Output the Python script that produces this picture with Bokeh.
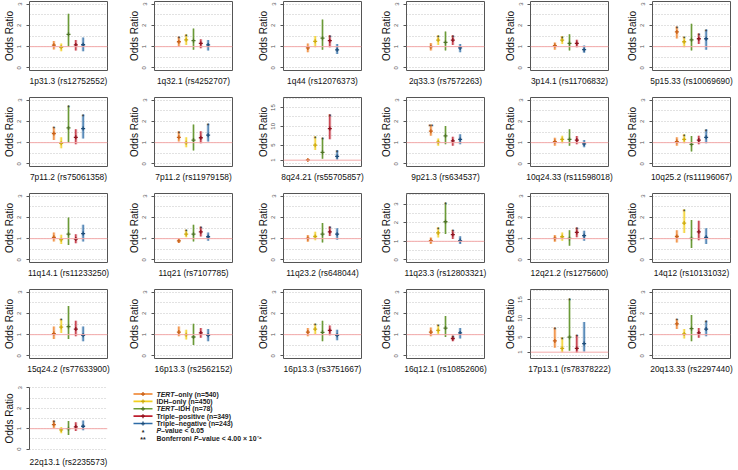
from bokeh.plotting import figure
from bokeh.layouts import row, column
from bokeh.models import Range1d, FixedTicker, Span, ColumnDataSource
from bokeh.core.properties import value
from bokeh.embed import file_html
from bokeh.resources import INLINE

# ---------------- data ----------------
loci = ["1p31.3 (rs12752552)", "1q32.1 (rs4252707)", "1q44 (rs12076373)", "2q33.3 (rs7572263)",
        "3p14.1 (rs11706832)", "5p15.33 (rs10069690)", "7p11.2 (rs75061358)", "7p11.2 (rs11979158)",
        "8q24.21 (rs55705857)", "9p21.3 (rs634537)", "10q24.33 (rs11598018)", "10q25.2 (rs11196067)",
        "11q14.1 (rs11233250)", "11q21 (rs7107785)", "11q23.2 (rs648044)", "11q23.3 (rs12803321)",
        "12q21.2 (rs1275600)", "14q12 (rs10131032)", "15q24.2 (rs77633900)", "16p13.3 (rs2562152)",
        "16p13.3 (rs3751667)", "16q12.1 (rs10852606)", "17p13.1 (rs78378222)", "20q13.33 (rs2297440)",
        "22q13.1 (rs2235573)"]

# y-axis upper limit per panel (axis setting)
ylim_max = [3, 3, 3, 3, 3, 3, 3, 3, 17, 3, 3, 3, 3, 3, 3, 3.43, 3, 3, 3, 3, 3, 3, 17, 3, 3]
small_ticks = [0, 1, 2, 3]
large_ticks = [1, 5, 10, 15]

legend_italic = ["TERT", "", "TERT", "", ""]
legend_rest = ["\u2013only (n=540)", "IDH\u2013only (n=450)", "\u2013IDH (n=78)",
               "Triple\u2013positive (n=349)", "Triple\u2013negative (n=243)"]

# TERT-only
or_tert = [1.07, 1.23, 0.94, 1.00, 1.05, 1.69, 1.43, 1.25, 1.05, 1.54, 1.05, 1.05, 1.06, 0.90, 1.01,
           1.04, 1.01, 1.10, 1.05, 1.12, 1.12, 1.12, 4.0, 1.51, 1.20]
lo_tert = [0.87, 1.00, 0.74, 0.82, 0.86, 1.38, 1.12, 1.05, 0.85, 1.32, 0.86, 0.86, 0.87, 0.79, 0.86,
           0.86, 0.86, 0.82, 0.80, 0.92, 0.92, 0.92, 2.2, 1.26, 1.02]
hi_tert = [1.27, 1.46, 1.15, 1.17, 1.20, 1.95, 1.74, 1.54, 1.30, 1.85, 1.23, 1.25, 1.29, 1.01, 1.17,
           1.21, 1.17, 1.40, 1.38, 1.38, 1.31, 1.34, 7.6, 1.74, 1.40]
sig_tert = ["", "*", "", "", "", "*", "*", "*", "", "**", "", "", "", "", "",
            "", "", "", "", "", "", "", "*", "*", "*"]

# IDH-only
or_idh = [0.97, 1.32, 1.25, 1.31, 1.31, 1.23, 0.97, 1.00, 5.0, 1.02, 1.15, 1.15, 0.95, 1.21, 1.10,
          1.45, 1.09, 1.73, 1.35, 1.00, 1.26, 1.20, 2.0, 1.03, 0.94]
lo_idh = [0.78, 1.08, 0.97, 1.08, 1.12, 0.97, 0.74, 0.78, 3.7, 0.86, 0.97, 0.97, 0.75, 1.06, 0.93,
          1.21, 0.90, 1.26, 1.08, 0.77, 1.03, 1.00, 1.0, 0.82, 0.78]
hi_idh = [1.15, 1.58, 1.50, 1.54, 1.50, 1.46, 1.25, 1.25, 7.4, 1.20, 1.32, 1.40, 1.18, 1.42, 1.32,
          1.75, 1.29, 2.38, 1.74, 1.23, 1.51, 1.46, 5.0, 1.26, 1.08]
sig_idh = ["", "*", "", "*", "*", "*", "", "", "*", "", "", "*", "", "*", "",
           "*", "", "*", "*", "", "*", "*", "*", "", ""]

# TERT-IDH
or_both = [1.58, 1.28, 1.40, 1.20, 1.15, 1.32, 1.69, 1.12, 3.1, 1.32, 1.15, 0.92, 1.21, 1.21, 1.21,
           2.05, 1.01, 1.01, 1.38, 0.89, 1.11, 1.31, 5.0, 1.28, 1.00]
lo_both = [1.00, 0.85, 0.85, 0.82, 0.82, 0.82, 1.00, 0.63, 1.4, 0.92, 0.85, 0.58, 0.70, 0.87, 0.82,
           1.39, 0.67, 0.56, 0.80, 0.51, 0.69, 0.89, 1.4, 0.69, 0.69]
hi_both = [2.54, 1.85, 2.28, 1.71, 1.58, 2.08, 2.74, 1.85, 7.0, 1.78, 1.63, 1.31, 1.99, 1.65, 1.73,
           3.09, 1.40, 1.88, 2.35, 1.51, 1.65, 1.88, 15.3, 1.92, 1.38]
sig_both = ["", "", "", "", "", "", "*", "", "*", "", "", "", "", "", "",
            "*", "", "", "", "", "", "", "*", "", ""]

# Triple-positive
or_tpos = [1.08, 1.15, 1.28, 1.31, 1.15, 1.37, 1.25, 1.23, 9.4, 1.08, 1.12, 1.12, 0.98, 1.32, 1.32,
           1.36, 1.29, 1.32, 1.26, 1.08, 1.20, 0.82, 2.0, 1.08, 1.09]
lo_tpos = [0.82, 0.92, 0.97, 1.08, 0.97, 1.12, 0.92, 0.97, 6.6, 0.86, 0.92, 0.92, 0.78, 1.10, 1.13,
           1.13, 1.06, 0.93, 0.92, 0.85, 0.97, 0.69, 0.9, 0.85, 0.89]
hi_tpos = [1.31, 1.35, 1.54, 1.54, 1.32, 1.62, 1.63, 1.54, 13.2, 1.28, 1.31, 1.32, 1.21, 1.56, 1.57,
           1.61, 1.52, 1.84, 1.65, 1.31, 1.43, 0.95, 5.6, 1.31, 1.31]
sig_tpos = ["", "", "*", "*", "", "*", "", "", "*", "", "", "", "", "*", "*",
            "*", "*", "", "", "", "", "*", "*", "", ""]

# Triple-negative
or_tneg = [1.09, 1.08, 0.85, 0.94, 0.86, 1.37, 1.66, 1.35, 2.0, 1.15, 0.94, 1.25, 1.24, 1.09, 1.21,
           1.04, 1.14, 1.06, 0.97, 0.97, 0.97, 1.08, 3.3, 1.26, 1.12]
lo_tneg = [0.78, 0.82, 0.66, 0.74, 0.71, 0.85, 1.20, 1.05, 1.2, 0.92, 0.78, 0.97, 0.87, 0.90, 0.95,
           0.86, 0.90, 0.75, 0.69, 0.69, 0.74, 0.82, 1.2, 0.92, 0.92]
hi_tneg = [1.43, 1.31, 1.12, 1.12, 1.05, 1.80, 2.32, 1.89, 3.7, 1.40, 1.12, 1.63, 1.65, 1.29, 1.49,
           1.27, 1.37, 1.49, 1.38, 1.26, 1.23, 1.31, 9.0, 1.65, 1.40]
sig_tneg = ["", "", "", "", "", "*", "*", "*", "*", "", "", "*", "", "", "",
            "", "", "", "", "", "", "", "", "*", ""]

group_or = [or_tert, or_idh, or_both, or_tpos, or_tneg]
group_lo = [lo_tert, lo_idh, lo_both, lo_tpos, lo_tneg]
group_hi = [hi_tert, hi_idh, hi_both, hi_tpos, hi_tneg]
group_sig = [sig_tert, sig_idh, sig_both, sig_tpos, sig_tneg]

# ---------------- style / layout ----------------
line_colors = ["#EE7D22", "#F3CF1F", "#6B9A37", "#BE1E2D", "#2D6BA6"]
mark_colors = ["#C8611A", "#CDAA10", "#4E7526", "#8E1420", "#1E4D7A"]
FONT = "Liberation Sans"

col_widths = [125, 129, 123, 124, 122, 113]
row_heights = [96, 96, 96, 96, 85]
LEFT = 27
FRAME_W = 80
FRAME_H = 69
TOP = 1

figs = []
for i, locus in enumerate(loci):
    c = i % 6
    r = i // 6
    w = col_widths[c]
    h = row_heights[r]
    top = ylim_max[i]
    big = top > 5
    ticks = large_ticks if big else small_ticks
    step = 2.5 if big else 0.5
    grid_ticks = [k * step for k in range(int(top * 1.04 / step) + 1)]

    p = figure(width=w, height=h, output_backend="svg", toolbar_location=None,
               x_range=Range1d(-2.33, 8.33), y_range=Range1d(-0.04 * top, 1.04 * top),
               min_border=0, min_border_left=LEFT, min_border_right=w - LEFT - FRAME_W,
               min_border_top=TOP, min_border_bottom=h - TOP - FRAME_H)
    p.background_fill_color = "white"
    p.border_fill_color = "white"
    p.outline_line_color = "#555555" if i < 24 else None
    p.outline_line_width = 1

    p.xgrid.visible = False
    p.ygrid.ticker = FixedTicker(ticks=grid_ticks)
    p.ygrid.grid_line_color = "#c4c4c4"
    p.ygrid.grid_line_dash = "1 2"
    p.ygrid.grid_line_width = 1

    p.yaxis.ticker = FixedTicker(ticks=ticks)
    p.yaxis.bounds = (ticks[0], ticks[-1])
    p.yaxis.major_label_orientation = "vertical"
    p.yaxis.major_label_text_font = FONT
    p.yaxis.major_label_text_font_size = "6px"
    p.yaxis.major_label_text_color = "#555555"
    p.yaxis.major_label_standoff = 5
    p.yaxis.major_tick_out = 3
    p.yaxis.major_tick_in = 0
    p.yaxis.minor_tick_line_color = None
    p.yaxis.axis_line_color = "#555555"
    p.yaxis.major_tick_line_color = "#555555"
    p.yaxis.axis_label = "Odds Ratio"
    p.yaxis.axis_label_text_font = FONT
    p.yaxis.axis_label_text_font_size = "10px"
    p.yaxis.axis_label_text_font_style = "normal"
    p.yaxis.axis_label_text_color = "#111111"
    p.yaxis.axis_label_standoff = 0

    p.xaxis.ticker = FixedTicker(ticks=[])
    p.xaxis.axis_line_color = None
    p.xaxis.major_tick_line_color = None
    p.xaxis.minor_tick_line_color = None
    p.xaxis.major_tick_out = 0
    p.xaxis.minor_tick_out = 0
    p.xaxis.axis_label = locus
    p.xaxis.axis_label_text_font = FONT
    p.xaxis.axis_label_text_font_size = "8.4px"
    p.xaxis.axis_label_text_font_style = "normal"
    p.xaxis.axis_label_text_color = "#111111"
    p.xaxis.axis_label_standoff = 5

    p.add_layout(Span(location=1, dimension="width", line_color="#F4AAAA", line_width=1))

    src = ColumnDataSource(dict(
        x=[1, 2, 3, 4, 5],
        est=[g[i] for g in group_or],
        lo=[g[i] for g in group_lo],
        hi=[g[i] for g in group_hi],
        sig=[g[i] for g in group_sig],
        lc=line_colors,
        mc=mark_colors,
    ))
    p.segment(x0="x", y0="lo", x1="x", y1="hi", source=src, line_color="lc",
              line_width=3.0, line_alpha=0.3)
    p.segment(x0="x", y0="lo", x1="x", y1="hi", source=src, line_color="lc",
              line_width=1.1, line_alpha=1.0)
    p.scatter(x="x", y="est", source=src, marker="cross", size=4, line_color="mc",
              line_width=1.3)
    p.text(x="x", y="hi", text="sig", source=src, text_align="center",
           text_baseline="alphabetic", y_offset=2, text_font=value(FONT),
           text_font_size="7px", text_color="#333333")
    figs.append(p)

# ---------------- legend panel ----------------
LEG_W = sum(col_widths) - col_widths[0]
LEG_H = row_heights[4]
leg = figure(width=LEG_W, height=LEG_H, output_backend="svg", toolbar_location=None,
             x_range=Range1d(0, LEG_W), y_range=Range1d(LEG_H, 0), min_border=0)
leg.axis.visible = False
leg.grid.visible = False
leg.outline_line_color = None
leg.background_fill_color = "white"
leg.border_fill_color = "white"

LX0, LX1, TX = 8, 27, 31
Y0, DY = 11, 9.5
LFONT = "Liberation Sans"
LSIZE_PX = 6.9
LSIZE = "%.1fpx" % LSIZE_PX
# approximate advance widths (em) of the pieces that precede a style change
italic_w = {"TERT": 2.611 * LSIZE_PX}
P_W = 0.667 * LSIZE_PX
BONF_W = 5.389 * LSIZE_PX
ys = [Y0 + DY * k for k in range(7)]
lsrc = ColumnDataSource(dict(x0=[LX0] * 5, x1=[LX1] * 5, y=ys[:5], xm=[(LX0 + LX1) / 2] * 5,
                             lc=line_colors, mc=mark_colors))
leg.segment(x0="x0", y0="y", x1="x1", y1="y", source=lsrc, line_color="lc", line_width=1.6)
leg.scatter(x="xm", y="y", source=lsrc, marker="cross", size=4, line_color="mc", line_width=1.3)

TXT = dict(text_font=value(LFONT), text_font_size=LSIZE, text_color="#222222",
           text_baseline="middle")
for k in range(5):
    xo = TX
    if legend_italic[k]:
        leg.text(x=[xo], y=[ys[k]], text=[legend_italic[k]], text_font_style="bold italic", **TXT)
        xo += italic_w[legend_italic[k]]
    leg.text(x=[xo], y=[ys[k]], text=[legend_rest[k]], text_font_style="bold", **TXT)

star_labels = ["*", "**"]
leg.text(x=[(LX0 + LX1) / 2] * 2, y=[ys[5] + 2, ys[6] + 2], text=star_labels,
         text_font_style="bold", text_align="center", **TXT)
leg.text(x=[TX], y=[ys[5]], text=["P"], text_font_style="bold italic", **TXT)
leg.text(x=[TX + P_W], y=[ys[5]], text=["\u2013value < 0.05"], text_font_style="bold", **TXT)
leg.text(x=[TX], y=[ys[6]], text=["Bonferroni"], text_font_style="bold", **TXT)
leg.text(x=[TX + BONF_W], y=[ys[6]], text=["P"], text_font_style="bold italic", **TXT)
leg.text(x=[TX + BONF_W + P_W], y=[ys[6]], text=["\u2013value < 4.00 \u00d7 10\u207b\u2074"],
         text_font_style="bold", **TXT)

rows = []
for r in range(4):
    rows.append(row(*figs[r * 6:(r + 1) * 6]))
rows.append(row(figs[24], leg))
layout = column(*rows)

open("out.html", "w").write(file_html(layout, INLINE))
